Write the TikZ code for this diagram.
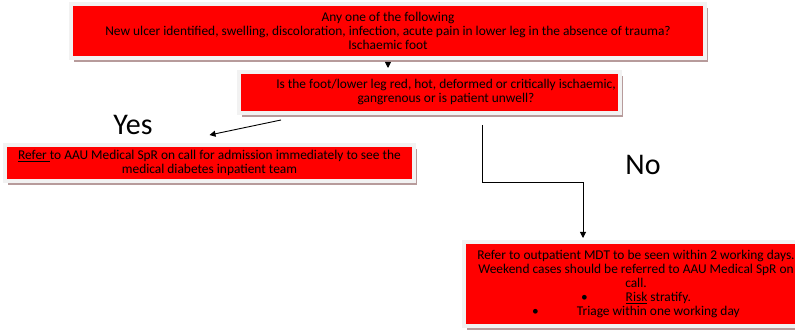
\documentclass[tikz,border=0pt]{standalone}
\usepackage{fontspec}
\setmainfont{Carlito}
\usetikzlibrary{arrows.meta,shadows}
\definecolor{boxred}{RGB}{255,0,0}
\definecolor{framegrey}{RGB}{242,242,242}
\definecolor{shadowgrey}{RGB}{183,155,155}

\begin{document}
\begin{tikzpicture}[x=1pt, y=-1pt, line width=0.9pt, >={Triangle[length=6pt,width=6pt]},
	box/.style = {draw=framegrey, fill=boxred, line width=4pt, align=center, inner sep=2pt, font=\fontsize{13.4}{14}\selectfont, drop shadow={shadow xshift=3pt, shadow yshift=-4pt, fill=shadowgrey, opacity=1}},
	big/.style = {font=\fontsize{30}{36}\selectfont, anchor=base}]
	\useasboundingbox (0,0) rectangle (795,331);
	
	\node[box, minimum width=634pt, minimum height=54pt] (any) at (388,31) {Any one of the following\\ New ulcer identified, swelling, discoloration, infection, acute pain in lower leg in the absence of trauma?\\ Ischaemic foot};
	\node[box, minimum width=381pt, minimum height=41pt] (check) at (429.5,92.5) {\hspace*{33pt}Is the foot/lower leg red, hot, deformed or critically ischaemic,\\ \hspace*{33pt}gangrenous or is patient unwell?};
	\node[box, minimum width=409pt, minimum height=36pt] (admit) at (209.5,163) {\underline{Refer\ }to AAU Medical SpR on call for admission immediately to see the\\ medical diabetes inpatient team};
	\node[box, minimum width=344pt, minimum height=84pt] (outpt) at (636,284) {Refer to outpatient MDT to be seen within 2 working days.\\ Weekend cases should be referred to AAU Medical SpR on\\ call.\\ \textbullet\hspace{38pt}\underline{Risk} stratify.\\ \textbullet\hspace{38pt}Triage within one working day};
	
	\node[big] (yes) at (133,135) {Yes};
	\node[big] (no) at (643,175) {No};
	
	\coordinate (nobend) at (482,182);
	\coordinate (nodrop) at (583,182);
	
	\draw[->, shorten <=6pt, shorten >=2pt] (any.south) -- (any.south |- check.north);
	\draw[->] ([xshift=44pt,yshift=-5pt]check.south west) -- ([yshift=8pt]admit.north);
	\draw[->, shorten <=10pt, shorten >=2pt] (nobend |- check.south) -- (nobend) -- (nodrop) -- (nodrop |- outpt.north);
	
\end{tikzpicture}
\end{document}
